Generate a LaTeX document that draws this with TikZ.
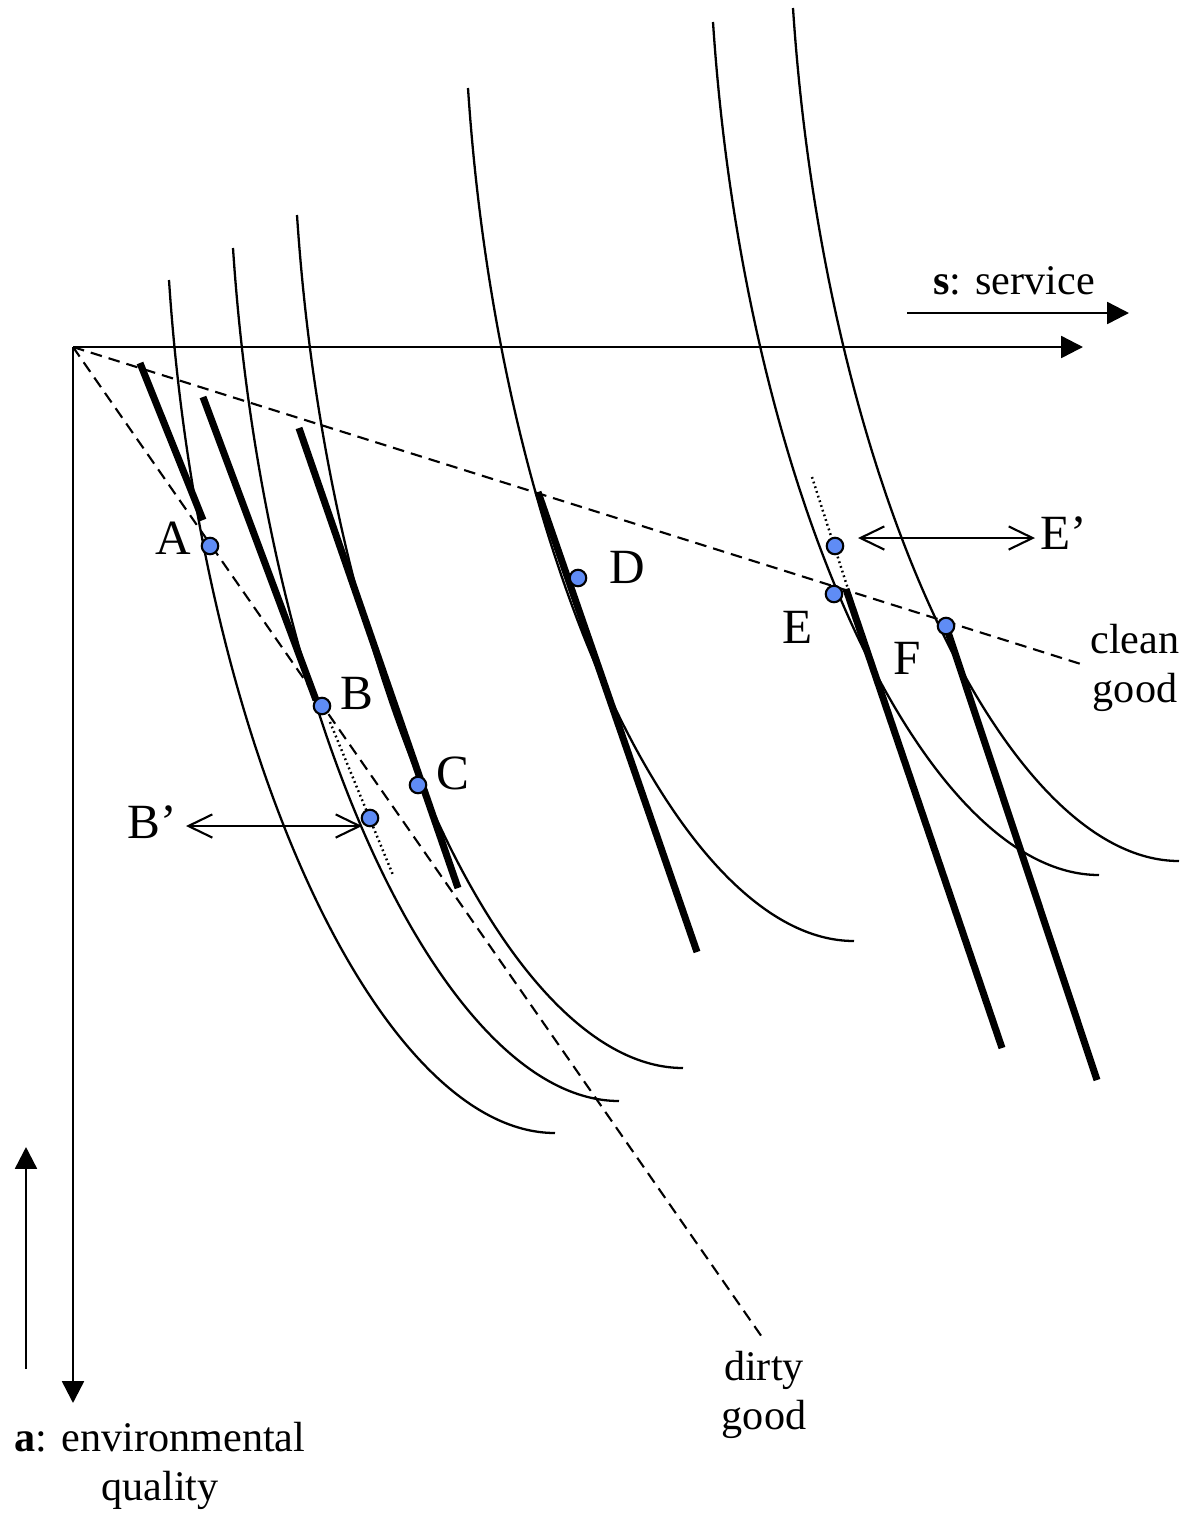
\documentclass[tikz,border=0pt]{standalone}
\usepackage{fontspec}
\setmainfont{Liberation Serif}
\usetikzlibrary{arrows.meta, positioning}

\definecolor{dotblue}{RGB}{95,140,245}

\begin{document}
\begin{tikzpicture}[x=0.01cm, y=-0.01cm,
    axis/.style={line width=0.7pt, -{Triangle[length=6.2pt,width=6.2pt]}},
    icurve/.style={line width=0.65pt},
    budget/.style={line width=2pt},
    ray/.style={line width=0.6pt, dash pattern=on 3.3pt off 2pt},
    shiftline/.style={line width=0.7pt, dash pattern=on 0.5pt off 0.9pt},
    pt/.style={circle, draw=black, fill=dotblue, line width=0.6pt, inner sep=0pt, minimum size=0.165cm},
    ptlabel/.style={inner sep=0pt, font=\fontsize{14}{16}\selectfont},
    txt/.style={inner sep=0pt, align=center, font=\fontsize{12}{14}\selectfont},
    move/.style={line width=0.6pt, {Straight Barb[length=6.8pt,width=6.6pt]}-{Straight Barb[length=6.8pt,width=6.6pt]}}]

    \useasboundingbox (0,0) rectangle (1191,1517);

    % Indifference curves
    \foreach \px/\py in {169/280, 233/248, 297/215, 468/88, 713/22, 793/8} {
        \draw[icurve, shift={(\px,\py)}] (0,0) .. controls (31,470) and (211,853) .. (386,853);
    }

    % Axes
    \coordinate (O) at (73,347);
    \coordinate (sEnd) at (1083,347);
    \coordinate (aEnd) at (73,1403);
    \draw[axis] (O) -- (sEnd);
    \draw[axis] (O) -- (aEnd);

    % Directions
    \coordinate (sFrom) at (907,313);
    \coordinate (sTo) at (1129,313);
    \draw[axis] (sFrom) -- (sTo);
    \node[txt] (sLabel) at (1014,281) {\textbf{s}: service};
    \coordinate (aFrom) at (26,1369);
    \coordinate (aTo) at (26,1147);
    \draw[axis] (aFrom) -- (aTo);
    \node[txt] (aLabel) at (160,1466) {\textbf{a}: environmental\\quality};

    % Rays of the two goods
    \coordinate (cleanEnd) at (1084,665);
    \coordinate (dirtyEnd) at (762,1337);
    \draw[ray] (O) -- (cleanEnd);
    \draw[ray] (O) -- (dirtyEnd);
    \node[txt] (clean) at (1135,668) {clean\\good};
    \node[txt] (dirty) at (764,1395) {dirty\\good};

    % Budget lines
    \foreach \x/\y/\u/\v in {140/363/203/520, 203/397/316/700, 299/428/458/888,
                             538/492/697/952, 846/589/1002/1048, 946/626/1097/1080} {
        \draw[budget] (\x,\y) -- (\u,\v);
    }

    % Dotted shifted lines
    \draw[shiftline] (330,722) -- (393,875);
    \draw[shiftline] (812,477) -- (858,620);

    % Points
    \node[pt] (A) at (210,546) {};
    \node[pt] (B) at (322,706) {};
    \node[pt] (Bp) at (370,818) {};
    \node[pt] (C) at (418,785) {};
    \node[pt] (D) at (578,578) {};
    \node[pt] (Ep) at (835,546) {};
    \node[pt] (E) at (834,594) {};
    \node[pt] (F) at (946,626) {};

    % Labels
    \node[ptlabel] (labA) at (173,538) {A};
    \node[ptlabel] (labB) at (357,693) {B};
    \node[ptlabel] (labC) at (453,773) {C};
    \node[ptlabel] (labD) at (627,567) {D};
    \node[ptlabel] (labE) at (798,627) {E};
    \node[ptlabel] (labF) at (907,658) {F};
    \node[ptlabel] (labBp) at (152,822) {B’};
    \node[ptlabel] (labEp) at (1064,533) {E’};

    % Moves
    \coordinate (BpL) at (186,826);
    \coordinate (BpR) at (362,826);
    \draw[move] (BpL) -- (BpR);
    \coordinate (EpL) at (858,538);
    \coordinate (EpR) at (1035,538);
    \draw[move] (EpL) -- (EpR);

\end{tikzpicture}
\end{document}
